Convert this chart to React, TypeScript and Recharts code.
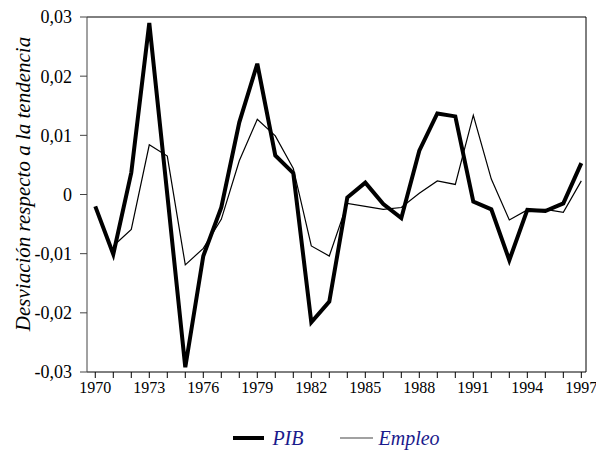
import React from 'react';
import { LineChart, Line, XAxis, YAxis, ReferenceLine, Legend } from 'recharts';

const years = [
  1970, 1971, 1972, 1973, 1974, 1975, 1976, 1977, 1978, 1979,
  1980, 1981, 1982, 1983, 1984, 1985, 1986, 1987, 1988, 1989,
  1990, 1991, 1992, 1993, 1994, 1995, 1996, 1997,
];

const pib = [
  -0.002, -0.0101, 0.0037, 0.029, 0.0, -0.0292, -0.0104, -0.0022, 0.0122, 0.0221,
  0.0066, 0.0036, -0.0216, -0.0181, -0.0005, 0.002, -0.0016, -0.004, 0.0074, 0.0137,
  0.0132, -0.0012, -0.0025, -0.0111, -0.0026, -0.0028, -0.0015, 0.0053,
];

const empleo = [
  null, -0.0087, -0.0059, 0.0084, 0.0065, -0.0119, -0.0091, -0.0042, 0.0057, 0.0127,
  0.0099, 0.0044, -0.0087, -0.0104, -0.0015, -0.002, -0.0025, -0.0022, 0.0002, 0.0023,
  0.0017, 0.0134, 0.0026, -0.0043, -0.0026, -0.0025, -0.003, 0.0023,
];

const yTicks = [-0.03, -0.02, -0.01, 0, 0.01, 0.02, 0.03];

const data = years.map((year, i) => ({ year, pib: pib[i], empleo: empleo[i] }));

const SERIF = '"Liberation Serif", "DejaVu Serif", serif';
const X_MIN = 1969.54;
const X_MAX = 1997.26;

const fmtY = (v: number) => (v === 0 ? '0' : v.toFixed(2).replace('.', ','));
const fmtX = (v: number) => ((v - 1970) % 3 === 0 ? String(v) : '');

function LegendContent() {
  const text = { fontFamily: SERIF, fontStyle: 'italic', fontSize: 20, color: '#1a1a8c' };
  return (
    <div
      style={{
        display: 'flex',
        justifyContent: 'center',
        alignItems: 'center',
        height: 50,
        paddingTop: 18,
        paddingLeft: 87,
        boxSizing: 'border-box',
      }}
    >
      <svg width={31} height={8}>
        <line x1={0} y1={4} x2={31} y2={4} stroke="#000" strokeWidth={4} />
      </svg>
      <span style={{ ...text, marginLeft: 8 }}>PIB</span>
      <svg width={33} height={8} style={{ marginLeft: 36 }}>
        <line x1={0} y1={4} x2={33} y2={4} stroke="#444" strokeWidth={1.2} />
      </svg>
      <span style={{ ...text, marginLeft: 6 }}>Empleo</span>
    </div>
  );
}

export default function App() {
  return (
    <div style={{ position: 'absolute', left: 0, top: 0, fontFamily: SERIF }}>
      <LineChart width={596} height={454} data={data} margin={{ top: 17, right: 10, left: 0, bottom: 0 }}>
        <XAxis
          dataKey="year"
          type="number"
          domain={[X_MIN, X_MAX]}
          ticks={years}
          interval={0}
          tickFormatter={fmtX}
          allowDataOverflow
          height={32}
          tickSize={6}
          tickMargin={4}
          stroke="#000"
          tick={{ fill: '#000', fontSize: 16, fontFamily: SERIF }}
        />
        <YAxis
          type="number"
          domain={[-0.03, 0.03]}
          ticks={yTicks}
          interval={0}
          tickFormatter={fmtY}
          width={87}
          tickSize={7}
          tickMargin={8}
          stroke="#444"
          tick={{ fill: '#000', fontSize: 18, fontFamily: SERIF }}
          label={{
            content: () => (
              <text
                x={23}
                y={184}
                transform="rotate(-90 23 184)"
                textAnchor="middle"
                dominantBaseline="central"
                fontFamily={SERIF}
                fontStyle="italic"
                fontSize={21}
                fill="#000"
              >
                Desviación respecto a la tendencia
              </text>
            ),
          }}
        />
        <ReferenceLine y={0.03} stroke="#000" strokeWidth={1} />
        <ReferenceLine x={X_MAX} stroke="#000" strokeWidth={1} />
        <Line
          type="linear"
          dataKey="empleo"
          stroke="#000"
          strokeWidth={1.2}
          dot={false}
          isAnimationActive={false}
        />
        <Line
          type="linear"
          dataKey="pib"
          stroke="#000"
          strokeWidth={4}
          dot={false}
          isAnimationActive={false}
        />
        <Legend verticalAlign="bottom" height={50} content={() => <LegendContent />} />
      </LineChart>
    </div>
  );
}
